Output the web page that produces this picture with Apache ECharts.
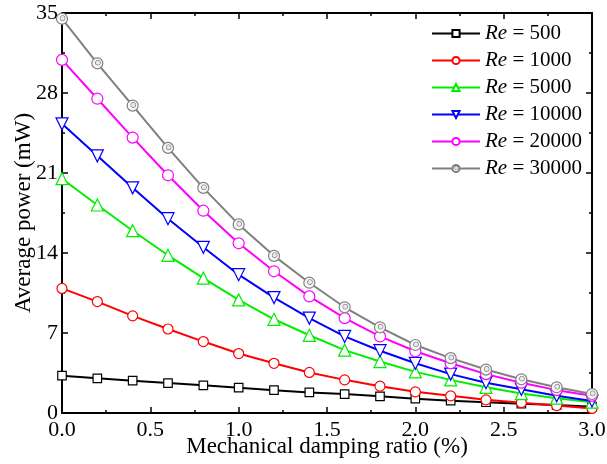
<!DOCTYPE html>
<html>
<head>
<meta charset="utf-8">
<script src="https://cdn.jsdelivr.net/npm/echarts@6/dist/echarts.min.js"></script>
<style>html,body{margin:0;padding:0;background:#fff}#c{width:607px;height:464px}</style>
</head>
<body>
<div id="c"></div>
<script>
const xValues = [0, 0.2, 0.4, 0.6, 0.8, 1.0, 1.2, 1.4, 1.6, 1.8, 2.0, 2.2, 2.4, 2.6, 2.8, 3.0];
const seriesNames = ['Re = 500', 'Re = 1000', 'Re = 5000', 'Re = 10000', 'Re = 20000', 'Re = 30000'];
const re500   = [3.27, 3.03, 2.83, 2.62, 2.42, 2.22, 2.0, 1.8, 1.66, 1.46, 1.25, 1.08, 0.94, 0.81, 0.7, 0.55];
const re1000  = [10.9, 9.75, 8.5, 7.35, 6.25, 5.2, 4.35, 3.55, 2.9, 2.35, 1.85, 1.5, 1.15, 0.9, 0.65, 0.4];
const re5000  = [20.5, 18.2, 15.95, 13.8, 11.8, 9.9, 8.2, 6.8, 5.5, 4.5, 3.6, 2.9, 2.25, 1.7, 1.3, 0.95];
const re10000 = [25.3, 22.5, 19.7, 17.0, 14.5, 12.1, 10.1, 8.3, 6.7, 5.45, 4.35, 3.4, 2.65, 2.07, 1.5, 1.05];
const re20000 = [30.9, 27.5, 24.1, 20.8, 17.7, 14.85, 12.4, 10.2, 8.3, 6.7, 5.4, 4.35, 3.4, 2.65, 2.0, 1.5];
const re30000 = [34.5, 30.6, 26.9, 23.2, 19.7, 16.5, 13.75, 11.4, 9.25, 7.5, 5.95, 4.8, 3.8, 2.95, 2.25, 1.66];
const yTicks = [0, 7, 14, 21, 28, 35];

const allData = [re500, re1000, re5000, re10000, re20000, re30000];
const colors = ['#000000', '#ff0000', '#00ee00', '#0000ff', '#ff00ff', '#808080'];
const symbols = ['rect', 'circle', 'triangle', 'triangle', 'circle', 'circle'];
const symbolSizes = [8.5, 10, 12, 12, 11, 11];
const rotates = [0, 0, 0, 180, 0, 0];

const font = '"Liberation Serif", "Times New Roman", serif';

const series = allData.map((d, i) => ({
  name: seriesNames[i],
  type: 'line',
  data: d.map((v, j) => [xValues[j], v]),
  symbol: symbols[i],
  symbolSize: symbolSizes[i],
  symbolRotate: rotates[i],
  showAllSymbol: true,
  z: 2 + i,
  lineStyle: { color: colors[i], width: 2 },
  itemStyle: {
    color: i === 5 ? { type: 'radial', x: 0.55, y: 0.45, r: 0.5, colorStops: [{offset: 0, color: '#e8e8e8'}, {offset: 0.28, color: '#e8e8e8'}, {offset: 0.4, color: '#8a8a8a'}, {offset: 0.52, color: '#f4f4f4'}, {offset: 1, color: '#ffffff'}] } : '#ffffff',
    borderColor: colors[i],
    borderWidth: 1.2
  },
  emphasis: { disabled: true },
  animation: false
}));

const chart = echarts.init(document.getElementById('c'), null, { renderer: 'canvas' });
const axisCommon = {
  axisLine: { show: true, onZero: false, lineStyle: { color: '#000', width: 2 } },
  axisTick: { show: true, inside: true, length: 6, lineStyle: { color: '#000', width: 1.5 } },
  minorTick: { show: true, splitNumber: 2, length: 3, lineStyle: { color: '#000', width: 1.5 } },
  splitLine: { show: false }
};
chart.setOption({
  backgroundColor: '#fff',
  animation: false,
  grid: { left: 62, right: 15, top: 13, bottom: 51, containLabel: false, outerBoundsMode: 'none' },
  legend: {
    orient: 'vertical',
    left: 426,
    top: 18,
    itemWidth: 48,
    itemHeight: 9,
    itemGap: 6,
    data: seriesNames,
    formatter: function (name) { return '{i|Re} = ' + name.split('= ')[1]; },
    textStyle: {
      fontFamily: font, fontSize: 21, color: '#000', lineHeight: 20,
      rich: { i: { fontFamily: font, fontSize: 21, fontStyle: 'italic', color: '#000' } }
    }
  },
  xAxis: [{
    type: 'value', min: 0, max: 3, interval: 0.5,
    name: 'Mechanical damping ratio (%)', nameLocation: 'middle', nameGap: 22, nameMoveOverlap: false,
    nameTextStyle: { fontFamily: font, fontSize: 23, color: '#000' },
    axisLabel: { fontFamily: font, fontSize: 22, color: '#000', margin: 6, formatter: v => v.toFixed(1) },
    ...axisCommon
  }, {
    type: 'value', position: 'top', min: 0, max: 3, interval: 0.5,
    axisLabel: { show: false }, ...axisCommon
  }],
  yAxis: [{
    type: 'value', min: 0, max: 35, interval: 7,
    name: 'Average power (mW)', nameLocation: 'middle', nameGap: 27, nameMoveOverlap: false,
    nameTextStyle: { fontFamily: font, fontSize: 23, color: '#000' },
    axisLabel: { fontFamily: font, fontSize: 22, color: '#000', margin: 4 },
    ...axisCommon
  }, {
    type: 'value', position: 'right', min: 0, max: 35, interval: 7,
    axisLabel: { show: false }, ...axisCommon
  }],
  series: series
});
</script>
</body>
</html>
